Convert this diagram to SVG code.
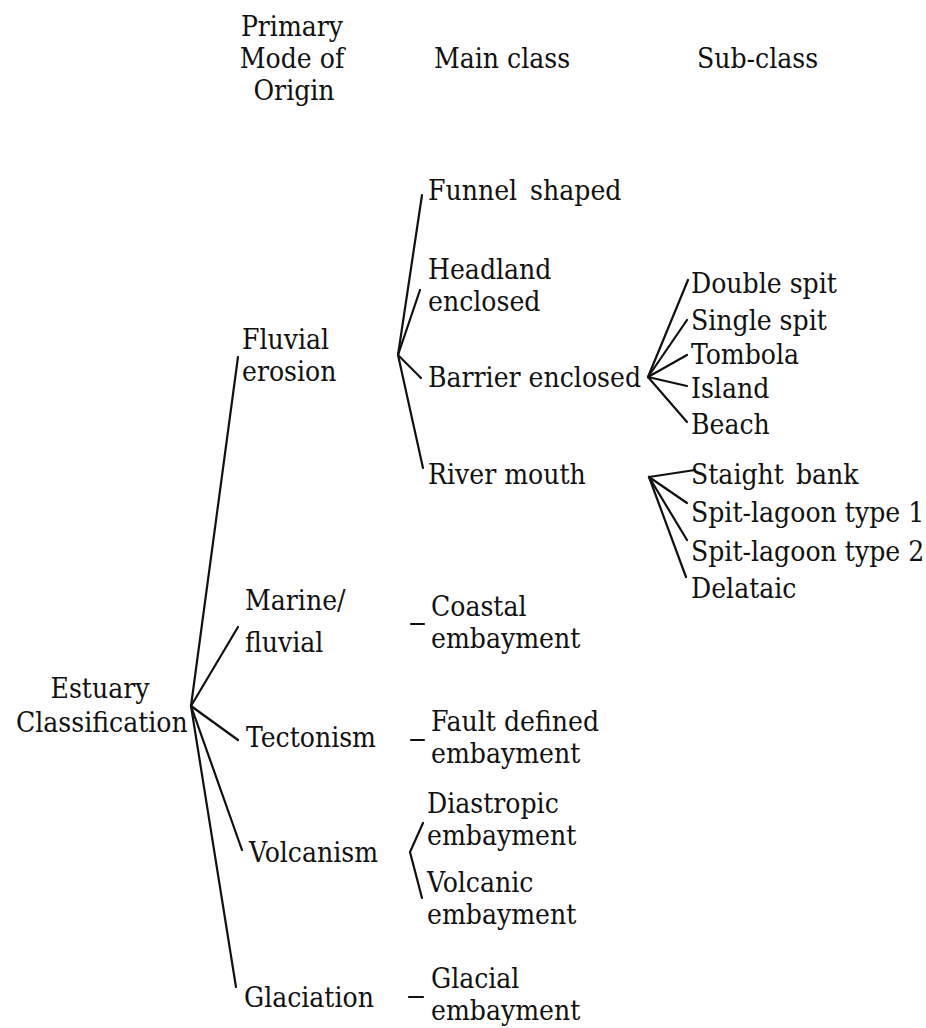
<svg xmlns="http://www.w3.org/2000/svg" width="926" height="1028" viewBox="0 0 926 1028" font-family="DejaVu Serif Condensed, DejaVu Serif, serif" font-stretch="condensed">
<style>
text{font-size:28px;fill:#111}
.c{text-anchor:middle}
#connectors line,#connectors polyline{stroke:#111;stroke-width:2.2;fill:none;stroke-linecap:round}
</style>
<rect width="926" height="1028" fill="#fff"/>
<g id="headers">
<text class="c" x="292" y="36">Primary</text>
<text class="c" x="292" y="68">Mode of</text>
<text class="c" x="294" y="100">Origin</text>
<text x="434" y="68">Main class</text>
<text x="697" y="68">Sub-class</text>
</g>
<g id="connectors">
<line x1="191" y1="706" x2="238" y2="357"/>
<line x1="191" y1="706" x2="238" y2="627"/>
<line x1="191" y1="706" x2="238" y2="740"/>
<line x1="191" y1="706" x2="242" y2="850"/>
<line x1="191" y1="706" x2="236" y2="987"/>
<line x1="398" y1="355" x2="422" y2="195"/>
<line x1="398" y1="355" x2="420" y2="290"/>
<line x1="398" y1="355" x2="421" y2="378"/>
<line x1="398" y1="355" x2="423" y2="468"/>
<line x1="648" y1="377" x2="688" y2="280"/>
<line x1="648" y1="377" x2="687" y2="320"/>
<line x1="648" y1="377" x2="687" y2="355"/>
<line x1="648" y1="377" x2="687" y2="386"/>
<line x1="648" y1="377" x2="687" y2="422"/>
<line x1="649" y1="477" x2="695" y2="470"/>
<line x1="649" y1="477" x2="687" y2="503"/>
<line x1="649" y1="477" x2="687" y2="540"/>
<line x1="649" y1="477" x2="686" y2="577"/>
<line x1="411" y1="624" x2="424" y2="624"/>
<line x1="411" y1="740" x2="424" y2="740"/>
<line x1="409" y1="997" x2="423" y2="997"/>
<polyline points="423,823 410,852 422,898"/>
</g>
<g id="n-root"><text class="c" x="100" y="698">Estuary</text><text x="16" y="732">Classification</text></g>
<g id="n-fluvial"><text x="242" y="349">Fluvial</text><text x="242" y="381">erosion</text></g>
<g id="n-marine"><text x="245" y="610">Marine/</text><text x="245" y="652">fluvial</text></g>
<g id="n-tectonism"><text x="246" y="747">Tectonism</text></g>
<g id="n-volcanism"><text x="249" y="862">Volcanism</text></g>
<g id="n-glaciation"><text x="244" y="1007">Glaciation</text></g>
<g id="n-funnel"><text x="428" y="200" word-spacing="5">Funnel shaped</text></g>
<g id="n-headland"><text x="428" y="279">Headland</text><text x="428" y="311">enclosed</text></g>
<g id="n-barrier"><text x="428" y="387">Barrier enclosed</text></g>
<g id="n-river"><text x="428" y="484">River mouth</text></g>
<g id="n-coastal"><text x="431" y="616">Coastal</text><text x="431" y="648">embayment</text></g>
<g id="n-fault"><text x="431" y="731">Fault defined</text><text x="431" y="763">embayment</text></g>
<g id="n-diastropic"><text x="427" y="813">Diastropic</text><text x="427" y="845">embayment</text></g>
<g id="n-volcanic"><text x="427" y="892">Volcanic</text><text x="427" y="924">embayment</text></g>
<g id="n-glacial"><text x="431" y="988">Glacial</text><text x="431" y="1020">embayment</text></g>
<g id="n-double"><text x="691" y="293">Double spit</text></g>
<g id="n-single"><text x="691" y="330">Single spit</text></g>
<g id="n-tombola"><text x="691" y="364">Tombola</text></g>
<g id="n-island"><text x="691" y="398">Island</text></g>
<g id="n-beach"><text x="691" y="434">Beach</text></g>
<g id="n-straight"><text x="691" y="484" word-spacing="4">Staight bank</text></g>
<g id="n-spit1"><text x="691" y="522">Spit-lagoon type 1</text></g>
<g id="n-spit2"><text x="691" y="561">Spit-lagoon type 2</text></g>
<g id="n-delataic"><text x="691" y="598">Delataic</text></g>
</svg>
